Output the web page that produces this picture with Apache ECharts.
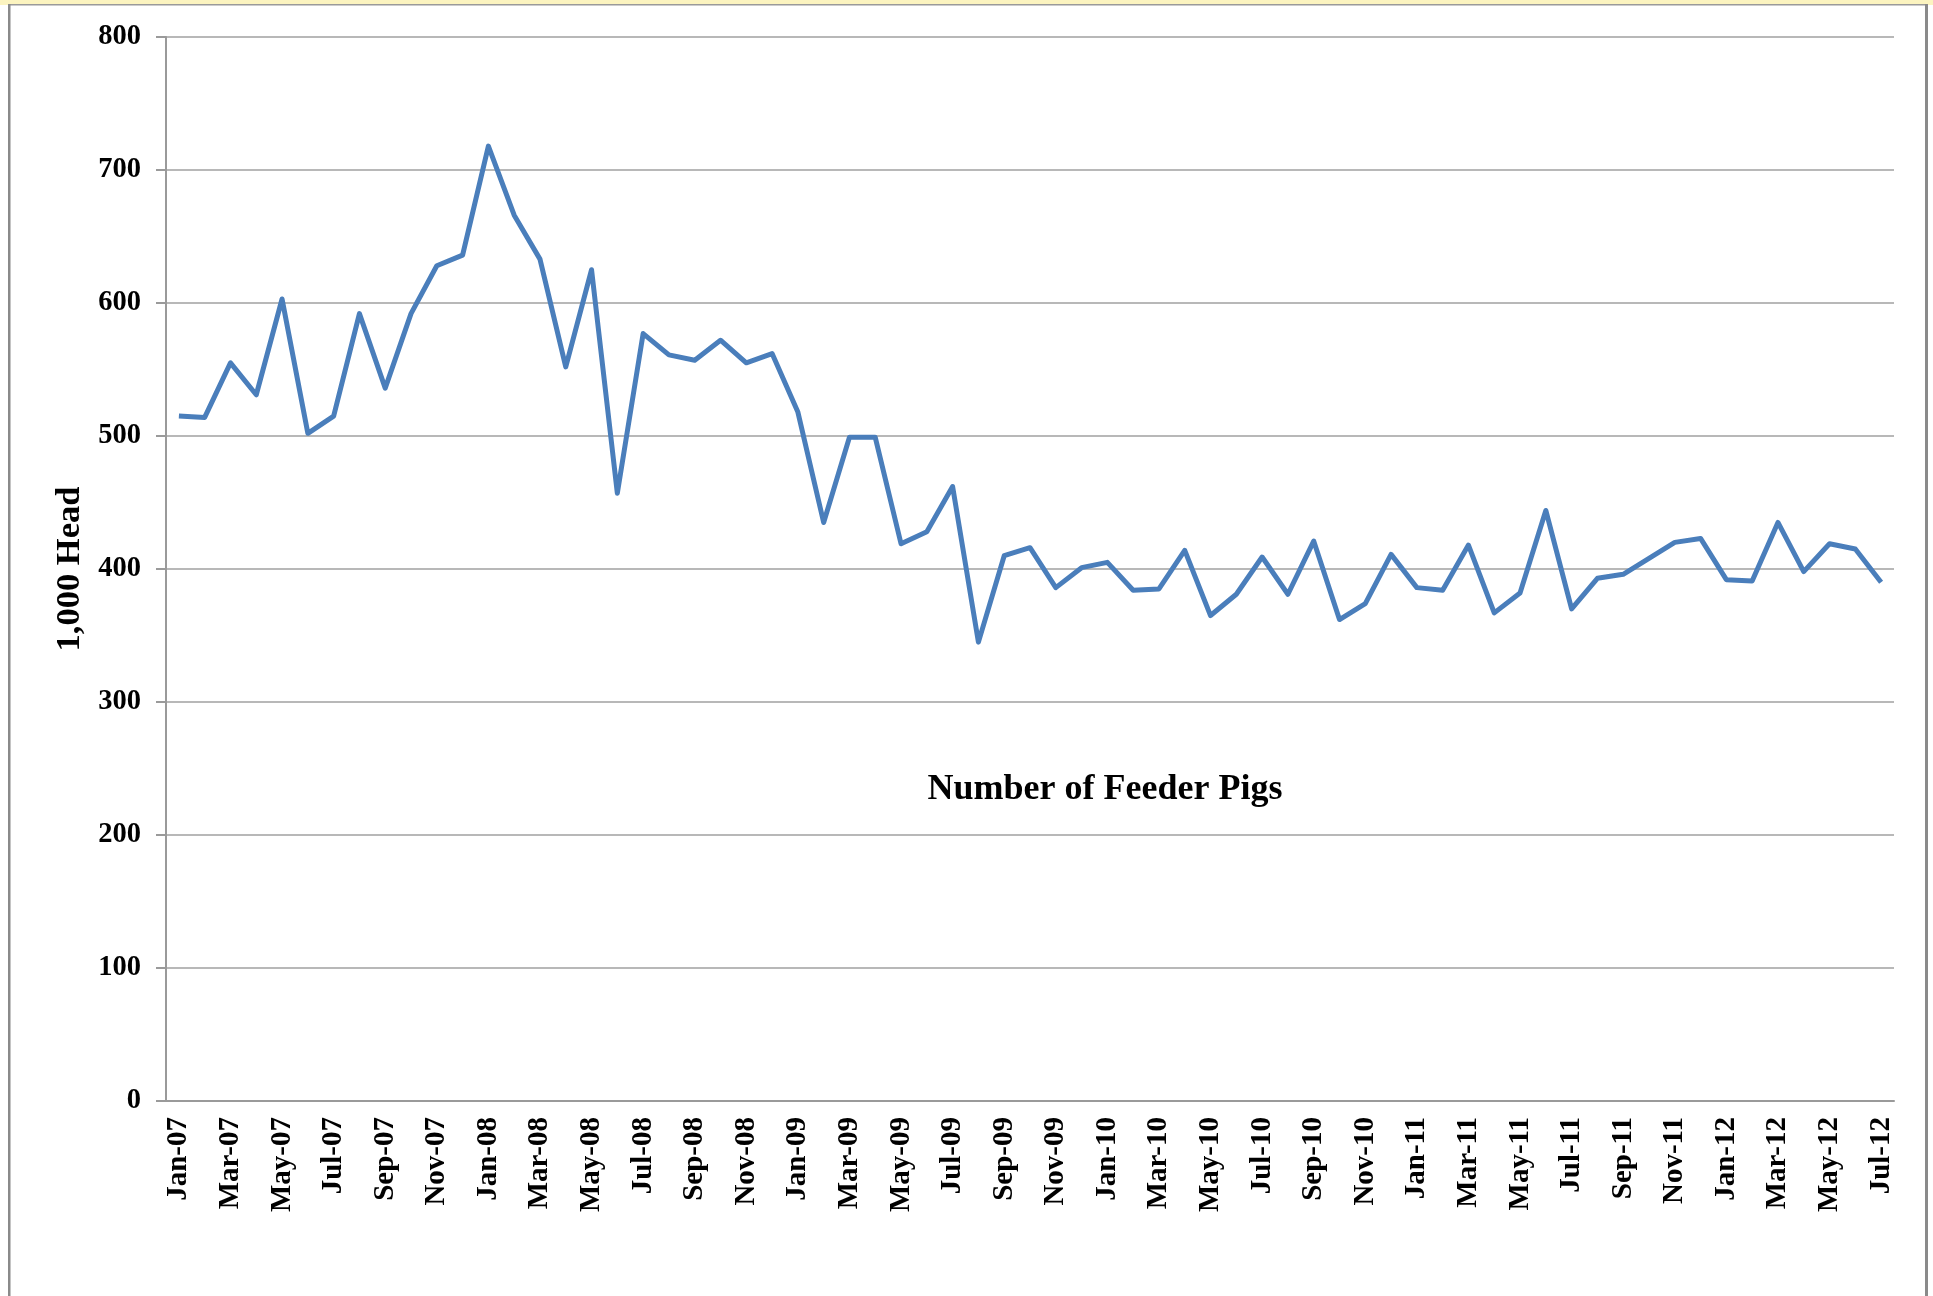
<!DOCTYPE html>
<html>
<head>
<meta charset="utf-8">
<script src="https://cdn.jsdelivr.net/npm/echarts@6/dist/echarts.min.js"></script>
<style>
html,body{margin:0;padding:0;background:#fff;}
#chart{width:1933px;height:1296px;}
</style>
</head>
<body>
<div id="chart"></div>
<script>
const months = ['Jan','Feb','Mar','Apr','May','Jun','Jul','Aug','Sep','Oct','Nov','Dec'];
const years = ['07','08','09','10','11','12'];
const categories = [];
for (const y of years) for (const m of months) categories.push(m + '-' + y);
categories.length = 67; // Jan-07 .. Jul-12

const feederPigs = [
  515, 514, 555, 531, 603, 502, 515, 592, 536, 592, 628, 636,
  718, 666, 633, 552, 625, 457, 577, 561, 557, 572, 555, 562,
  518, 435, 499, 499, 419, 428, 462, 345, 410, 416, 386, 401,
  405, 384, 385, 414, 365, 381, 409, 381, 421, 362, 374, 411,
  386, 384, 418, 367, 382, 444, 370, 393, 396, 408, 420, 423,
  392, 391, 435, 398, 419, 415, 390
];

const yTicks = [0, 100, 200, 300, 400, 500, 600, 700, 800];
const seriesName = 'Number of Feeder Pigs';
const yAxisName = '1,000 Head';

const FONT = '"Liberation Serif", "Times New Roman", serif';
const chart = echarts.init(document.getElementById('chart'), null, {renderer: 'canvas'});
chart.setOption({
  animation: false,
  backgroundColor: '#ffffff',
  title: {
    text: seriesName,
    left: 1100,
    top: 785,
    textAlign: 'center',
    textVerticalAlign: 'middle',
    textStyle: {fontFamily: FONT, fontWeight: 'bold', fontSize: 36, color: '#000'}
  },
  graphic: [
    {type: 'rect', shape: {x: 0, y: 0, width: 1933, height: 5}, style: {fill: '#fcf4c0'}, silent: true},
    {type: 'rect', shape: {x: 8, y: 4, width: 1919, height: 1.5}, style: {fill: '#9a9a9a'}, silent: true},
    {type: 'rect', shape: {x: 8, y: 4, width: 2.5, height: 1292}, style: {fill: '#8a8a8a'}, silent: true},
    {type: 'rect', shape: {x: 1925, y: 4, width: 3, height: 1292}, style: {fill: '#8a8a8a'}, silent: true}
  ],
  grid: {left: 166, right: 39, top: 37, bottom: 195, containLabel: false},
  xAxis: {
    type: 'category',
    data: categories,
    boundaryGap: true,
    axisLine: {show: true, lineStyle: {color: '#9a9a9a', width: 2}},
    axisTick: {show: false},
    axisLabel: {
      interval: 1,
      rotate: 90,
      margin: 16,
      fontFamily: FONT,
      fontWeight: 'bold',
      fontSize: 29,
      color: '#000'
    },
    splitLine: {show: false}
  },
  yAxis: {
    type: 'value',
    min: yTicks[0],
    max: yTicks[yTicks.length - 1],
    interval: 100,
    name: yAxisName,
    nameLocation: 'middle',
    nameRotate: 90,
    nameGap: 78,
    nameTextStyle: {fontFamily: FONT, fontWeight: 'bold', fontSize: 34.5, color: '#000'},
    axisLine: {show: true, lineStyle: {color: '#9a9a9a', width: 2}},
    axisTick: {show: true, length: 10, lineStyle: {color: '#9a9a9a', width: 2}},
    axisLabel: {
      margin: 25,
      fontFamily: FONT,
      fontWeight: 'bold',
      fontSize: 28.5,
      color: '#000'
    },
    splitLine: {show: true, lineStyle: {color: '#a0a0a0', width: 1.6}}
  },
  series: [{
    name: seriesName,
    type: 'line',
    data: feederPigs,
    showSymbol: false,
    symbol: 'none',
    lineStyle: {color: '#4a7ebb', width: 5, join: 'round'},
    itemStyle: {color: '#4a7ebb'}
  }]
});
</script>
</body>
</html>
